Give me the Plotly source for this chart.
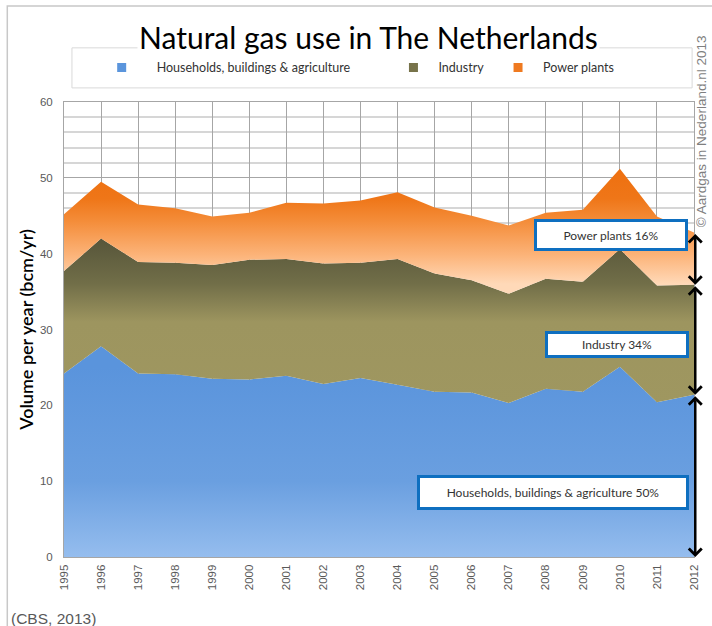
import plotly.graph_objects as go

years = list(range(1995, 2013))
# values in bcm/yr
households = [24.2, 27.8, 24.2, 24.1, 23.5, 23.4, 23.9, 22.8, 23.6, 22.7,
              21.8, 21.7, 20.3, 22.2, 21.8, 25.1, 20.4, 21.4]
industry = [13.5, 14.2, 14.7, 14.7, 15.0, 15.8, 15.4, 15.9, 15.2, 16.6,
            15.6, 14.8, 14.4, 14.5, 14.5, 15.5, 15.4, 14.5]
power = [7.5, 7.5, 7.6, 7.2, 6.4, 6.2, 7.4, 7.9, 8.2, 8.8,
         8.7, 8.5, 9.0, 8.7, 9.5, 10.6, 9.1, 6.9]

names = ["Households, buildings & agriculture", "Industry", "Power plants"]
shares = ["Households, buildings & agriculture 50%", "Industry 34%", "Power plants 16%"]

TXT = "Lato"
AX = "Liberation Sans"

fig = go.Figure()

fig.add_trace(go.Scatter(
    x=years, y=households, stackgroup="gas", mode="none", name=names[0],
    showlegend=False,
    fillgradient=dict(type="vertical", start=0, stop=25,
                      colorscale=[[0, "#95bdee"], [0.4, "#6a9fe0"], [1, "#5a94dc"]]),
))
fig.add_trace(go.Scatter(
    x=years, y=industry, stackgroup="gas", mode="none", name=names[1],
    showlegend=False,
    fillgradient=dict(type="vertical", start=20, stop=42,
                      colorscale=[[0, "#9f9760"], [0.5, "#9d955f"], [0.73, "#716e48"], [1, "#56553a"]]),
))
fig.add_trace(go.Scatter(
    x=years, y=power, stackgroup="gas", mode="none", name=names[2],
    showlegend=False,
    fillgradient=dict(type="vertical", start=36, stop=51,
                      colorscale=[[0, "#ffd9b8"], [0.25, "#fcb47a"], [0.55, "#f48d3a"],
                                  [0.75, "#ef7618"], [1, "#ee7010"]]),
))

# legend entries (one legend each so they can sit where the original put them)
leg_cols = ["#5b95dc", "#77734a", "#ef7a20"]
leg_x = [0.036, 0.515, 0.681]
leg_w = [60, 40, 40]
for i in range(3):
    fig.add_trace(go.Scatter(
        x=[None], y=[None], mode="markers", name=names[i],
        marker=dict(symbol="square", size=9, color=leg_cols[i]),
        legend="legend" if i == 0 else "legend%d" % (i + 1),
    ))

leg = dict(orientation="h", xanchor="left", yanchor="middle", y=1.075,
           bgcolor="rgba(0,0,0,0)", font=dict(family=TXT, size=12.5, color="#333333"))
fig.update_layout(
    legend=dict(leg, x=leg_x[0], itemwidth=leg_w[0]),
    legend2=dict(leg, x=leg_x[1], itemwidth=leg_w[1]),
    legend3=dict(leg, x=leg_x[2], itemwidth=leg_w[2]),
)

# frame and legend box
fig.add_shape(type="rect", xref="paper", yref="paper", x0=-0.09, x1=1.08, y0=-0.2, y1=1.211,
              line=dict(color="#c8c8c8", width=1.5), layer="below")
fig.add_shape(type="rect", xref="paper", yref="paper", x0=0.0126, x1=0.997, y0=1.031, y1=1.119,
              line=dict(color="#d9d9d9", width=1), layer="below")

# title with white background over the legend box edge
fig.add_annotation(text="Natural gas use in The Netherlands", xref="paper", yref="paper",
                   x=0.483, y=1.143, xanchor="center", yanchor="middle",
                   showarrow=False, bgcolor="white", borderpad=1,
                   font=dict(family=TXT, size=30, color="black"))

# share boxes
boxes = [(0.776, 0.141, 266, 29), (0.877, 0.466, 138, 21), (0.869, 0.708, 148, 26)]
for txt, (bx, by, w, h) in zip(shares, boxes):
    fig.add_annotation(text=txt, xref="paper", yref="paper", x=bx, y=by,
                       xanchor="center", yanchor="middle", showarrow=False,
                       width=w, height=h, bgcolor="white", bordercolor="#0e6fc0",
                       borderwidth=3, borderpad=0,
                       font=dict(family=TXT, size=12, color="#333333"))

# double arrows at the right edge
tops = [0, households[-1], households[-1] + industry[-1],
        households[-1] + industry[-1] + power[-1]]
for lo, hi in zip(tops[:-1], tops[1:]):
    fig.add_annotation(x=1.002, y=lo, ax=0, ay=hi, xref="paper", yref="y",
                       axref="pixel", ayref="y", text="", showarrow=True,
                       arrowside="end+start", arrowhead=4, startarrowhead=4,
                       arrowsize=1, startarrowsize=1, arrowwidth=2.5, arrowcolor="black")

fig.add_annotation(text="© Aardgas in Nederland.nl 2013", xref="paper", yref="paper",
                   x=1.012, y=0.935, xanchor="center", yanchor="middle",
                   textangle=-90, showarrow=False,
                   font=dict(family=AX, size=13.5, color="#7f7f7f"))
fig.add_annotation(text="(CBS, 2013)", xref="paper", yref="paper", x=-0.088, y=-0.135,
                   xanchor="left", yanchor="middle", showarrow=False,
                   font=dict(family=AX, size=15.5, color="#595959"))

fig.update_xaxes(range=[1995, 2012], dtick=1, tickangle=-90, showgrid=True,
                 gridcolor="#a6a6a6", gridwidth=1, showline=True, linecolor="#a6a6a6",
                 mirror=True, zeroline=False, ticks="", ticklabelstandoff=2,
                 tickfont=dict(family=AX, size=11.5, color="#595959"))
fig.update_yaxes(range=[0, 60], dtick=10, showgrid=True, gridcolor="#a6a6a6", gridwidth=1,
                 minor=dict(dtick=2, showgrid=True, gridcolor="#d6d6d6", gridwidth=1.5),
                 showline=True, linecolor="#a6a6a6", mirror=True, zeroline=False,
                 ticks="", ticklabelstandoff=8,
                 tickfont=dict(family=AX, size=11.5, color="#595959"),
                 title=dict(text="Volume per year (bcm/yr)", standoff=1,
                            font=dict(family=TXT, size=18, color="black", weight=600)))

fig.update_layout(
    width=712, height=626,
    margin=dict(l=64, r=15, t=102, b=69),
    paper_bgcolor="white", plot_bgcolor="white",
    font=dict(family=AX),
)

fig.write_html("out.html", config={"displayModeBar": False},
               post_script="document.body.style.margin='0';")
